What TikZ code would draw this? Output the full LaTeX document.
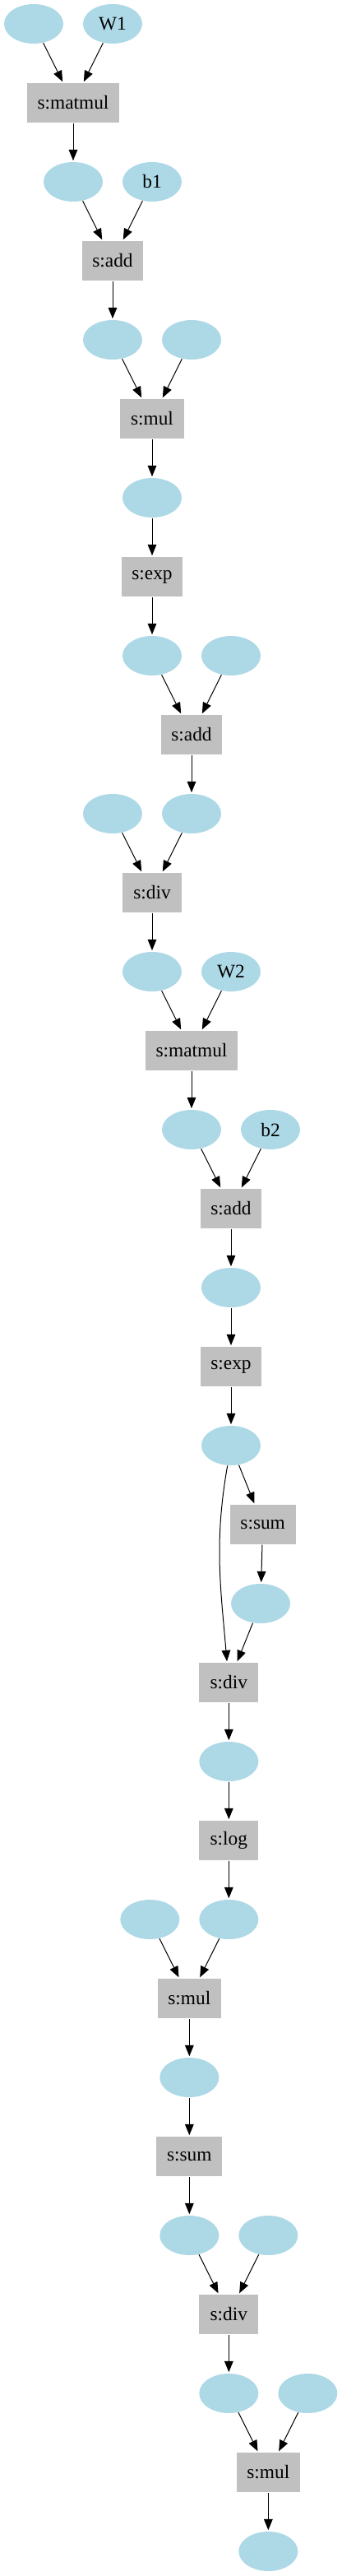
\documentclass[tikz,border=0pt]{standalone}
\usepackage{fontspec}
\setmainfont{Liberation Serif}
\usetikzlibrary{arrows.meta,positioning,petri,shapes.geometric}
\definecolor{valblue}{RGB}{173,216,230}
\definecolor{opgray}{RGB}{192,192,192}

\begin{document}
\begin{tikzpicture}[node distance=72pt and 36pt,on grid,>={Triangle[length=10pt,width=8pt]},line width=0.75pt,auto]
		\tikzstyle{value}=[ellipse, fill=valblue, minimum width=54pt, minimum height=36pt, inner sep=0pt, font=\fontsize{17.5}{20}\selectfont]
		\tikzstyle{op}=[rectangle, fill=opgray, minimum width=54pt, minimum height=36pt, inner xsep=9.5pt, font=\fontsize{17.5}{20}\selectfont]

		% first layer
		\node [value] (in1) {};
		\node [value] (W1) [right=72pt of in1] {W1};
		\node [op] (mm1) [below right=of in1] {s:matmul}
		edge [pre]             (in1)
		edge [pre]             (W1);
		\node [value] (h1) [below=of mm1] {}
		edge [pre]             (mm1);
		\node [value] (b1) [right=72pt of h1] {b1};
		\node [op] (add1) [below right=of h1] {s:add}
		edge [pre]             (h1)
		edge [pre]             (b1);
		\node [value] (h2) [below=of add1] {}
		edge [pre]             (add1);
		\node [value] (c1) [right=72pt of h2] {};
		\node [op] (mul1) [below right=of h2] {s:mul}
		edge [pre]             (h2)
		edge [pre]             (c1);
		\node [value] (h3) [below=of mul1] {}
		edge [pre]             (mul1);
		\node [op] (exp1) [below=of h3] {s:exp}
		edge [pre]             (h3);
		\node [value] (h4) [below=of exp1] {}
		edge [pre]             (exp1);
		\node [value] (c2) [right=72pt of h4] {};
		\node [op] (add2) [below right=of h4] {s:add}
		edge [pre]             (h4)
		edge [pre]             (c2);
		\node [value] (h5) [below=of add2] {}
		edge [pre]             (add2);
		\node [value] (c3) [left=72pt of h5] {};
		\node [op] (div1) [below left=of h5] {s:div}
		edge [pre]             (c3)
		edge [pre]             (h5);
		\node [value] (h6) [below=of div1] {}
		edge [pre]             (div1);

		% second layer
		\node [value] (W2) [right=72pt of h6] {W2};
		\node [op] (mm2) [below right=of h6] {s:matmul}
		edge [pre]             (h6)
		edge [pre]             (W2);
		\node [value] (h7) [below=of mm2] {}
		edge [pre]             (mm2);
		\node [value] (b2) [right=72pt of h7] {b2};
		\node [op] (add3) [below right=of h7] {s:add}
		edge [pre]             (h7)
		edge [pre]             (b2);
		\node [value] (h8) [below=of add3] {}
		edge [pre]             (add3);
		\node [op] (exp2) [below=of h8] {s:exp}
		edge [pre]             (h8);
		\node [value] (h9) [below=of exp2] {}
		edge [pre]             (exp2);
		\node [op] (sum1) [below right=72pt and 29pt of h9] {s:sum}
		edge [pre]             (h9);
		\node [value] (h10) [below left=72pt and 2pt of sum1] {}
		edge [pre]             (sum1);
		\node [op] (div2) [below left=72pt and 29pt of h10] {s:div}
		edge [pre,out=95,in=-100] (h9)
		edge [pre]             (h10);
		\node [value] (h11) [below=of div2] {}
		edge [pre]             (div2);

		% loss
		\node [op] (log1) [below=of h11] {s:log}
		edge [pre]             (h11);
		\node [value] (h12) [below=of log1] {}
		edge [pre]             (log1);
		\node [value] (c4) [left=72pt of h12] {};
		\node [op] (mul2) [below left=of h12] {s:mul}
		edge [pre]             (c4)
		edge [pre]             (h12);
		\node [value] (h13) [below=of mul2] {}
		edge [pre]             (mul2);
		\node [op] (sum2) [below=of h13] {s:sum}
		edge [pre]             (h13);
		\node [value] (h14) [below=of sum2] {}
		edge [pre]             (sum2);
		\node [value] (c5) [right=72pt of h14] {};
		\node [op] (div3) [below right=of h14] {s:div}
		edge [pre]             (h14)
		edge [pre]             (c5);
		\node [value] (h15) [below=of div3] {}
		edge [pre]             (div3);
		\node [value] (c6) [right=72pt of h15] {};
		\node [op] (mul3) [below right=of h15] {s:mul}
		edge [pre]             (h15)
		edge [pre]             (c6);
		\node [value] (loss) [below=of mul3] {}
		edge [pre]             (mul3);

		\useasboundingbox ([shift={(-30.75pt,21.75pt)}]in1.center) rectangle ([shift={(281.25pt,-2326.5pt)}]in1.center);
	\end{tikzpicture}
\end{document}
